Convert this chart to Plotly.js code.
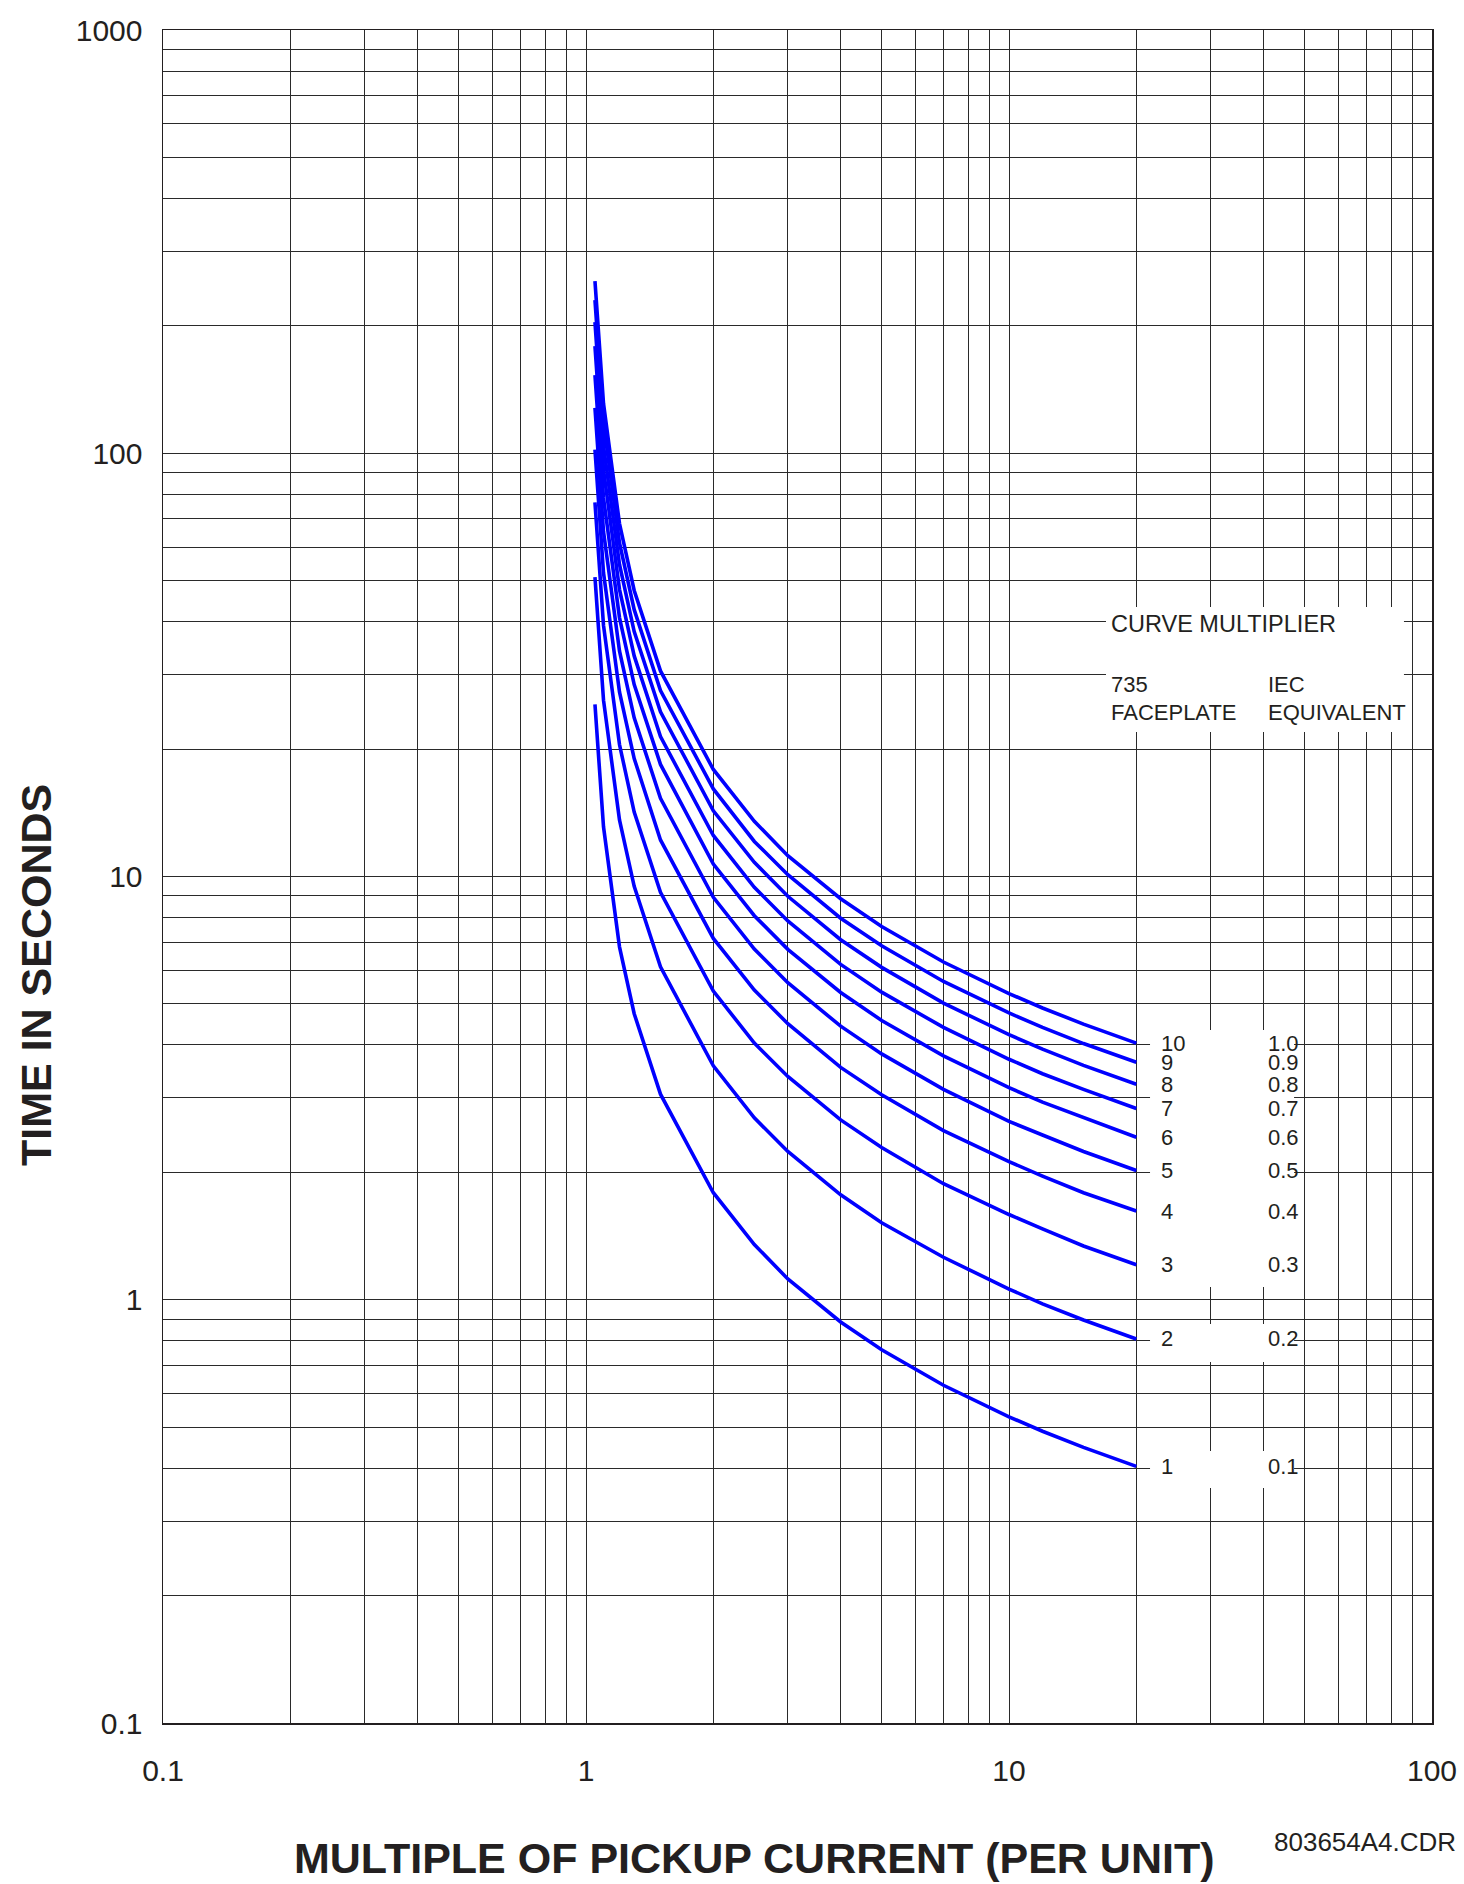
<!DOCTYPE html>
<html>
<head>
<meta charset="utf-8">
<script src="https://cdn.plot.ly/plotly-3.0.1.min.js"></script>
<style>
html,body{margin:0;padding:0;background:#ffffff;}
#chart{width:1464px;height:1884px;}
</style>
</head>
<body>
<div id="chart"></div>
<script>
// ---- data ----
const multipleOfPickup = [1.05, 1.1, 1.2, 1.3, 1.5, 2, 2.5, 3, 4, 5, 7, 10, 12, 15, 20];

const curveM1  = [25.5, 13.1, 6.82, 4.74, 3.06, 1.79, 1.35, 1.12, 0.886, 0.762, 0.628, 0.529, 0.489, 0.448, 0.404];
const curveM2  = [51.0, 26.1, 13.6, 9.48, 6.12, 3.57, 2.69, 2.24, 1.77, 1.52, 1.26, 1.06, 0.978, 0.896, 0.808];
const curveM3  = [76.5, 39.2, 20.5, 14.2, 9.18, 5.36, 4.04, 3.37, 2.66, 2.29, 1.88, 1.59, 1.47, 1.34, 1.21];
const curveM4  = [102, 52.2, 27.3, 19.0, 12.2, 7.14, 5.39, 4.49, 3.54, 3.05, 2.51, 2.12, 1.96, 1.79, 1.62];
const curveM5  = [128, 65.3, 34.1, 23.7, 15.3, 8.93, 6.74, 5.61, 4.43, 3.81, 3.14, 2.64, 2.45, 2.24, 2.02];
const curveM6  = [153, 78.4, 40.9, 28.4, 18.4, 10.7, 8.08, 6.73, 5.32, 4.57, 3.77, 3.17, 2.93, 2.69, 2.42];
const curveM7  = [179, 91.4, 47.7, 33.2, 21.4, 12.5, 9.43, 7.85, 6.20, 5.33, 4.40, 3.70, 3.42, 3.14, 2.83];
const curveM8  = [204, 104, 54.6, 37.9, 24.5, 14.3, 10.8, 8.98, 7.09, 6.10, 5.02, 4.23, 3.91, 3.58, 3.23];
const curveM9  = [230, 118, 61.4, 42.7, 27.5, 16.1, 12.1, 10.1, 7.97, 6.86, 5.65, 4.76, 4.40, 4.03, 3.64];
const curveM10 = [255, 131, 68.2, 47.4, 30.6, 17.9, 13.5, 11.2, 8.86, 7.62, 6.28, 5.29, 4.89, 4.48, 4.04];

const faceplateLabels = ['1', '2', '3', '4', '5', '6', '7', '8', '9', '10'];
const iecLabels       = ['0.1', '0.2', '0.3', '0.4', '0.5', '0.6', '0.7', '0.8', '0.9', '1.0'];

const xDecades = [0.1, 1, 10, 100];
const xDecadeLabels = ['0.1', '1', '10', '100'];
const yDecades = [0.1, 1, 10, 100, 1000];
const yDecadeLabels = ['0.1', '1', '10', '100', '1000'];
const gridSteps = [1, 2, 3, 4, 5, 6, 7, 8, 9];

const xTitle = 'MULTIPLE OF PICKUP CURRENT (PER UNIT)';
const yTitle = 'TIME IN SECONDS';
const drawingId = '803654A4.CDR';
const legendTitle = 'CURVE MULTIPLIER';

// ---- build ----
const curves = [curveM1, curveM2, curveM3, curveM4, curveM5, curveM6, curveM7, curveM8, curveM9, curveM10];

function buildTicks(decades, labels) {
  const vals = [], text = [];
  decades.forEach((d, i) => {
    if (i === decades.length - 1) { vals.push(d); text.push(labels[i]); return; }
    gridSteps.forEach(s => {
      vals.push(+(d * s).toPrecision(6));
      text.push(s === 1 ? labels[i] : '');
    });
  });
  return {vals, text};
}
const xt = buildTicks(xDecades, xDecadeLabels);
const yt = buildTicks(yDecades, yDecadeLabels);

const traces = curves.map((c, i) => ({
  x: multipleOfPickup,
  y: c,
  type: 'scatter',
  mode: 'lines',
  line: {color: '#0000ff', width: 3.6},
  name: faceplateLabels[i],
  showlegend: false,
  hoverinfo: 'skip'
}));

const FONT = 'Liberation Sans, Arial, Helvetica, sans-serif';
const NARROW = 'Liberation Sans Narrow, Arial Narrow, Liberation Sans, Arial, sans-serif';
const INK = '#231f20';

const annotations = [];
// axis titles
annotations.push({xref: 'paper', yref: 'paper', x: 0.4665, y: -0.0797, xanchor: 'center', yanchor: 'middle',
  text: '<b>' + xTitle + '</b>', showarrow: false, font: {family: FONT, size: 43, color: INK}});
annotations.push({xref: 'paper', yref: 'paper', x: -0.1001, y: 0.4418, xanchor: 'center', yanchor: 'middle',
  textangle: -90, text: '<b>' + yTitle + '</b>', showarrow: false, font: {family: FONT, size: 43, color: INK}});
annotations.push({xref: 'paper', yref: 'paper', x: 1.0205, y: -0.0703, xanchor: 'right', yanchor: 'middle',
  text: drawingId, showarrow: false, font: {family: FONT, size: 26, color: INK}});
// legend header
annotations.push({xref: 'paper', yref: 'paper', x: 0.7455, y: 0.6492, xanchor: 'left', yanchor: 'middle',
  text: legendTitle, showarrow: false, font: {family: FONT, size: 23.5, color: INK}});
annotations.push({xref: 'paper', yref: 'paper', x: 0.7455, y: 0.6134, xanchor: 'left', yanchor: 'middle',
  text: '735', showarrow: false, font: {family: FONT, size: 22, color: INK}});
annotations.push({xref: 'paper', yref: 'paper', x: 0.7455, y: 0.5966, xanchor: 'left', yanchor: 'middle',
  text: 'FACEPLATE', showarrow: false, font: {family: FONT, size: 22, color: INK}});
annotations.push({xref: 'paper', yref: 'paper', x: 0.8692, y: 0.6134, xanchor: 'left', yanchor: 'middle',
  text: 'IEC', showarrow: false, font: {family: FONT, size: 22, color: INK}});
annotations.push({xref: 'paper', yref: 'paper', x: 0.8692, y: 0.5966, xanchor: 'left', yanchor: 'middle',
  text: 'EQUIVALENT', showarrow: false, font: {family: FONT, size: 22, color: INK}});
// curve labels at the end of each curve
curves.forEach((c, i) => {
  const yEnd = Math.log10(c[c.length - 1]);
  annotations.push({xref: 'paper', yref: 'y', x: 0.7849, y: yEnd, xanchor: 'left', yanchor: 'middle',
    text: faceplateLabels[i], showarrow: false, font: {family: NARROW, size: 22, color: INK}});
  annotations.push({xref: 'paper', yref: 'y', x: 0.8692, y: yEnd, xanchor: 'left', yanchor: 'middle',
    text: iecLabels[i], showarrow: false, font: {family: NARROW, size: 22, color: INK}});
});

const whiteBox = (x0, x1, y0, y1) => ({type: 'rect', xref: 'paper', yref: 'paper', x0, x1, y0, y1,
  fillcolor: '#ffffff', line: {width: 0}, layer: 'above'});
const shapes = [
  whiteBox(0.7431, 0.9779, 0.5853, 0.6592),
  whiteBox(0.7778, 0.8913, 0.2575, 0.4093),
  whiteBox(0.7778, 0.8913, 0.2132, 0.2357),
  whiteBox(0.7778, 0.8913, 0.1388, 0.1607)
];

const layout = {
  width: 1464, height: 1884,
  margin: {l: 163, r: 32, t: 30, b: 161, pad: 0},
  paper_bgcolor: '#ffffff', plot_bgcolor: '#ffffff',
  showlegend: false,
  xaxis: {
    type: 'log', range: [-1, 2],
    tickmode: 'array', tickvals: xt.vals, ticktext: xt.text,
    ticks: '', showgrid: true, gridcolor: '#2a2a2a', gridwidth: 1,
    zeroline: false, showline: true, mirror: true, linecolor: '#231f20', linewidth: 1.5,
    tickfont: {family: FONT, size: 30, color: INK}, ticklabelstandoff: 20
  },
  yaxis: {
    type: 'log', range: [-1, 3],
    tickmode: 'array', tickvals: yt.vals, ticktext: yt.text,
    ticks: '', showgrid: true, gridcolor: '#2a2a2a', gridwidth: 1,
    zeroline: false, showline: true, mirror: true, linecolor: '#231f20', linewidth: 1.5,
    tickfont: {family: FONT, size: 30, color: INK}, ticklabelstandoff: 13
  },
  annotations, shapes
};

Plotly.newPlot('chart', traces, layout, {displayModeBar: false, staticPlot: true});
</script>
</body>
</html>
